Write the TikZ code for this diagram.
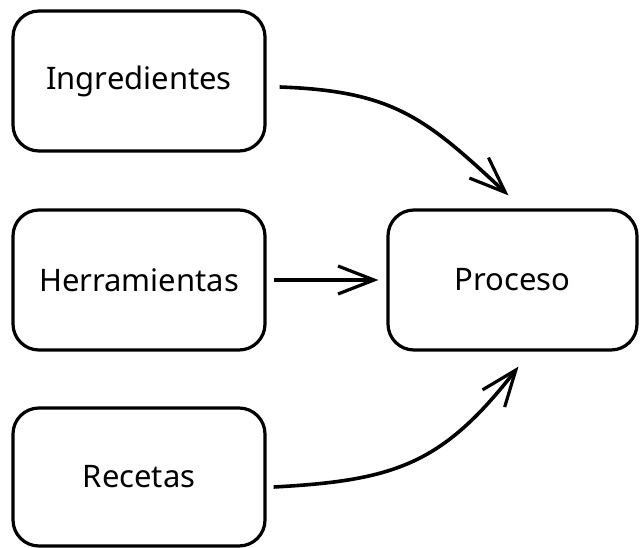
\documentclass[tikz,border=0pt]{standalone}
\usepackage{fontspec}
\setmainfont{Noto Sans}
\usepackage{tikz}
\usetikzlibrary{shapes,arrows.meta,positioning}

\tikzset{
	caja/.style={draw=black, line width=3.2pt, rounded corners=26pt, minimum width=252pt, minimum height=140pt, inner sep=0pt, font=\fontsize{31}{36}\selectfont},
	flecha/.style={line width=3.6pt, -{Straight Barb[length=36pt, width=28pt, line width=3.2pt]}}
}

\begin{document}
\begin{tikzpicture}[x=1pt, y=1pt]
				\useasboundingbox (0,0) rectangle (640,547);
				\node [caja] (ingr) at (139,466) {Ingredientes};
				\node [caja] (herr) at (139,267) {Herramientas};
				\node [caja, minimum height=138pt] (rec) at (139,70) {Recetas};
				\node [caja, minimum width=249pt] (proc) at (512.5,267) {Proceso};
				\draw [flecha] ([shift={(13,-6)}]ingr.east) to [out=-2, in=137, looseness=1.15] ([shift={(-4,13)}]proc.north);
				\draw [flecha] ([xshift=7]herr.east) -- ([xshift=-8]proc.west);
				\draw [flecha] ([shift={(7,-10)}]rec.east) to [out=3, in=232, looseness=1.15] ([shift={(6,-15)}]proc.south);
				\end{tikzpicture}
\end{document}
